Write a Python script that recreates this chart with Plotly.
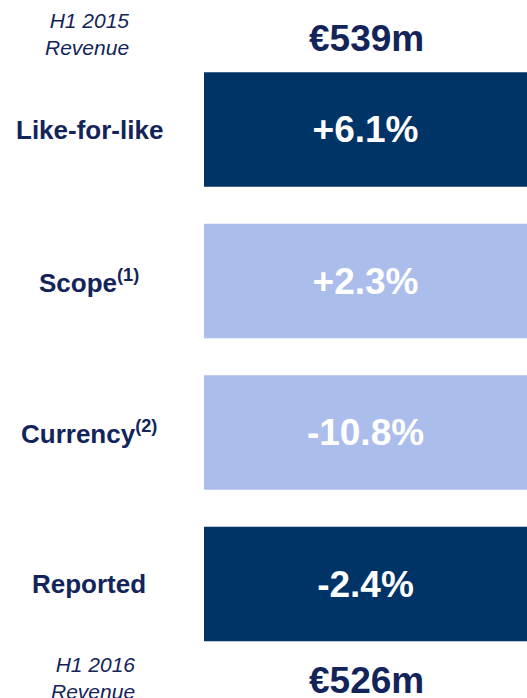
import plotly.graph_objects as go

categories = ["Like-for-like", "Scope<sup>(1)</sup>", "Currency<sup>(2)</sup>", "Reported"]
changes = ["+6.1%", "+2.3%", "-10.8%", "-2.4%"]
bar_kind = ["total", "component", "component", "total"]
start_label = "H1 2015<br>Revenue"
start_value = "€539m"
end_label = "H1 2016<br>Revenue"
end_value = "€526m"

DARK = "#003366"
LIGHT = "#ABBDEB"
NAVY_TEXT = "#13245A"
FONT = "Liberation Sans, Arial, sans-serif"

positions = list(range(len(categories)))
colors = [DARK if k == "total" else LIGHT for k in bar_kind]

fig = go.Figure()
fig.add_trace(go.Bar(
    y=positions,
    x=[1] * len(categories),
    orientation="h",
    marker=dict(color=colors, line=dict(width=0)),
    text=changes,
    textposition="inside",
    insidetextanchor="middle",
    textfont=dict(family=FONT, size=37, color="white", weight="bold"),
    hoverinfo="skip",
    width=0.756,
))

annotations = []
for p, c in zip(positions, categories):
    annotations.append(dict(
        x=-0.356, xref="paper", y=p, yref="y", text=c, showarrow=False,
        xanchor="center", yanchor="middle",
        font=dict(family=FONT, size=26, color=NAVY_TEXT, weight="bold"),
    ))

annotations += [
    dict(x=-0.362, xref="paper", y=-0.63, yref="y", text="<i>" + start_label + "</i>",
         showarrow=False, xanchor="center", yanchor="middle", align="right",
         font=dict(family=FONT, size=21, color=NAVY_TEXT)),
    dict(x=0.503, xref="paper", y=-0.60, yref="y", text=start_value,
         showarrow=False, xanchor="center", yanchor="middle",
         font=dict(family=FONT, size=37, color=NAVY_TEXT, weight="bold")),
    dict(x=-0.345, xref="paper", y=3.62, yref="y", text="<i>" + end_label + "</i>",
         showarrow=False, xanchor="center", yanchor="middle", align="right",
         font=dict(family=FONT, size=21, color=NAVY_TEXT)),
    dict(x=0.503, xref="paper", y=3.635, yref="y", text=end_value,
         showarrow=False, xanchor="center", yanchor="middle",
         font=dict(family=FONT, size=37, color=NAVY_TEXT, weight="bold")),
]

fig.update_layout(
    width=527, height=698,
    margin=dict(l=204, r=0, t=0, b=0),
    paper_bgcolor="white", plot_bgcolor="white",
    showlegend=False,
    xaxis=dict(range=[0, 1], visible=False, fixedrange=True),
    yaxis=dict(range=[3.752, -0.855], visible=False, fixedrange=True),
    annotations=annotations,
)

fig.write_html(
    "out.html",
    config={"displayModeBar": False},
    post_script="document.body.style.margin='0px';document.body.style.overflow='hidden';",
)
